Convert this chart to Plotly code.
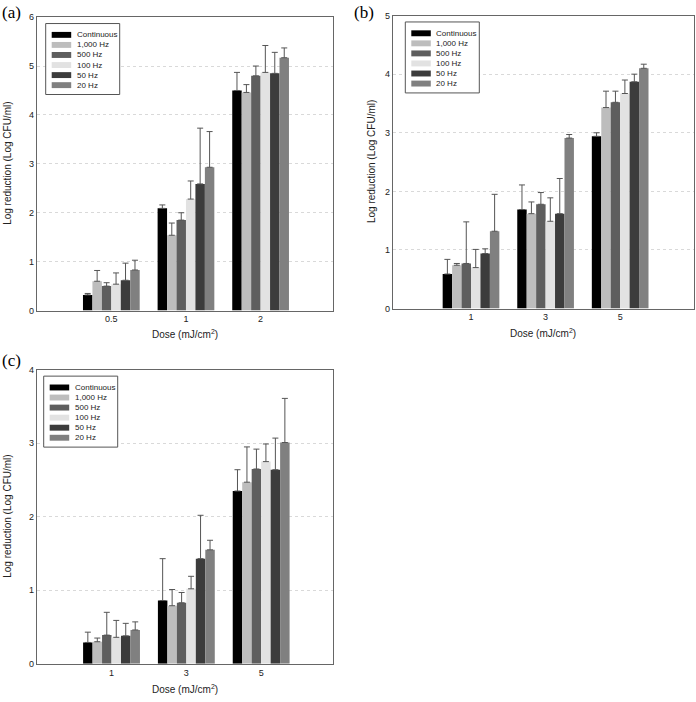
import plotly.graph_objects as go

W, H = 696, 702

series_names = ["Continuous", "1,000 Hz", "500 Hz", "100 Hz", "50 Hz", "20 Hz"]
series_colors = ["#000000", "#bdbdbd", "#5e5e5e", "#e2e2e2", "#3c3c3c", "#808080"]

# Panel (a)
doses_a = ["0.5", "1", "2"]
means_a = [
    [0.32, 2.09, 4.50],
    [0.60, 1.54, 4.46],
    [0.50, 1.85, 4.80],
    [0.54, 2.28, 4.87],
    [0.62, 2.59, 4.85],
    [0.83, 2.93, 5.17],
]
err_a = [
    [0.03, 0.07, 0.37],
    [0.22, 0.25, 0.16],
    [0.07, 0.15, 0.20],
    [0.23, 0.37, 0.55],
    [0.35, 1.14, 0.43],
    [0.20, 0.73, 0.20],
]

# Panel (b)
doses_b = ["1", "3", "5"]
means_b = [
    [0.59, 1.69, 2.94],
    [0.74, 1.62, 3.43],
    [0.77, 1.78, 3.52],
    [0.70, 1.49, 3.67],
    [0.94, 1.62, 3.87],
    [1.32, 2.91, 4.10],
]
err_b = [
    [0.25, 0.42, 0.06],
    [0.03, 0.20, 0.28],
    [0.71, 0.20, 0.19],
    [0.31, 0.40, 0.23],
    [0.08, 0.60, 0.13],
    [0.63, 0.06, 0.07],
]

# Panel (c)
doses_c = ["1", "3", "5"]
means_c = [
    [0.29, 0.86, 2.35],
    [0.30, 0.79, 2.47],
    [0.39, 0.83, 2.65],
    [0.36, 1.02, 2.75],
    [0.38, 1.43, 2.64],
    [0.46, 1.55, 3.01],
]
err_c = [
    [0.14, 0.57, 0.29],
    [0.05, 0.22, 0.48],
    [0.31, 0.14, 0.27],
    [0.23, 0.17, 0.24],
    [0.17, 0.59, 0.43],
    [0.11, 0.13, 0.60],
]

panels = [
    dict(label="(a)", doses=doses_a, means=means_a, errs=err_a, ymax=6,
         px=(36.7, 333.0), py=(12.3, 310.0), xr=[-1.0, 2.97], lab=(11, 8),
         ytitle_x=8, xtitle_y=334, leg_dx=9),
    dict(label="(b)", doses=doses_b, means=means_b, errs=err_b, ymax=5,
         px=(392.7, 694.0), py=(10.7, 308.0), xr=[-1.05, 2.99], lab=(364, 8),
         ytitle_x=371, xtitle_y=333, leg_dx=12.6),
    dict(label="(c)", doses=doses_c, means=means_c, errs=err_c, ymax=4,
         px=(36.7, 333.0), py=(370.0, 668.3), xr=[-1.0, 2.96], lab=(11, 361),
         ytitle_x=8, xtitle_y=694, leg_dx=7),
]

fig = go.Figure()
shapes = []
annotations = []
font_family = "Liberation Sans, Arial, sans-serif"

for k, p in enumerate(panels):
    sfx = "" if k == 0 else str(k + 1)
    xa, ya = "x" + sfx, "y" + sfx
    positions = list(range(len(p["doses"])))
    for i, name in enumerate(series_names):
        fig.add_trace(go.Bar(
            x=positions, y=p["means"][i], name=name,
            marker=dict(color=series_colors[i], line=dict(width=0)),
            error_y=dict(type="data", symmetric=False, array=p["errs"][i],
                         arrayminus=[0] * len(positions), color="#555555",
                         thickness=1, width=3),
            xaxis=xa, yaxis=ya, showlegend=False,
        ))
    x0, x1 = p["px"][0] / W, p["px"][1] / W
    y0, y1 = 1 - p["py"][1] / H, 1 - p["py"][0] / H
    fig.layout["xaxis" + sfx] = dict(
        domain=[x0, x1], anchor=ya, range=p["xr"], tickvals=positions,
        ticktext=p["doses"], showgrid=False, zeroline=False, showline=True,
        mirror=True, linecolor="#666666", linewidth=1, ticks="",
        tickfont=dict(size=9, color="#222", family=font_family),
    )
    fig.layout["yaxis" + sfx] = dict(
        domain=[y0, y1], anchor=xa, range=[0, p["ymax"]], dtick=1,
        showgrid=True, gridcolor="#d9d9d9", griddash="dot", gridwidth=1,
        zeroline=False, showline=True, mirror=True, linecolor="#666666",
        linewidth=1, ticks="", ticklen=0,
        tickfont=dict(size=9, color="#222", family=font_family),
    )
    # axis titles
    annotations.append(dict(
        text="Log reduction (Log CFU/ml)", textangle=-90, xref="paper", yref="paper",
        x=p["ytitle_x"] / W, y=(y0 + y1) / 2, xanchor="center", yanchor="middle",
        showarrow=False, font=dict(size=10, color="#222", family=font_family)))
    annotations.append(dict(
        text="Dose (mJ/cm<sup>2</sup>)", xref="paper", yref="paper",
        x=(x0 + x1) / 2, y=1 - p["xtitle_y"] / H, xanchor="center", yanchor="middle",
        showarrow=False, font=dict(size=10, color="#222", family=font_family)))
    annotations.append(dict(
        text=p["label"], xref="paper", yref="paper", x=p["lab"][0] / W,
        y=1 - p["lab"][1] / H, xanchor="center", yanchor="middle", showarrow=False,
        font=dict(size=17, color="#000", family="Liberation Serif, Times New Roman, serif")))
    # legend box (drawn in pixel offsets from top-left of plot area)
    left, top = p["px"][0], p["py"][0]
    bx0 = left + p["leg_dx"]
    by0 = top + 6.5
    shapes.append(dict(type="rect", xref="paper", yref="paper",
                       x0=bx0 / W, x1=(bx0 + 74) / W,
                       y0=1 - (by0 + 72) / H, y1=1 - by0 / H,
                       line=dict(color="#555555", width=1), fillcolor="white"))
    for i, name in enumerate(series_names):
        cy = by0 + 11.5 + i * 10.2
        shapes.append(dict(type="rect", xref="paper", yref="paper",
                           x0=(bx0 + 6) / W, x1=(bx0 + 25.5) / W,
                           y0=1 - (cy + 3) / H, y1=1 - (cy - 3) / H,
                           line=dict(width=0), fillcolor=series_colors[i]))
        annotations.append(dict(text=name, xref="paper", yref="paper",
                                x=(bx0 + 29) / W, y=1 - cy / H, xanchor="left",
                                yanchor="middle", showarrow=False,
                                font=dict(size=8, color="#222", family=font_family)))

fig.update_layout(
    width=W, height=H, margin=dict(l=0, r=0, t=0, b=0),
    paper_bgcolor="white", plot_bgcolor="white",
    barmode="group", bargap=0.24, bargroupgap=0.0,
    shapes=shapes, annotations=annotations, showlegend=False,
)

fig.write_html(
    "out.html",
    config={"displayModeBar": False},
    post_script="document.body.style.margin='0';document.body.style.overflow='hidden';",
)
